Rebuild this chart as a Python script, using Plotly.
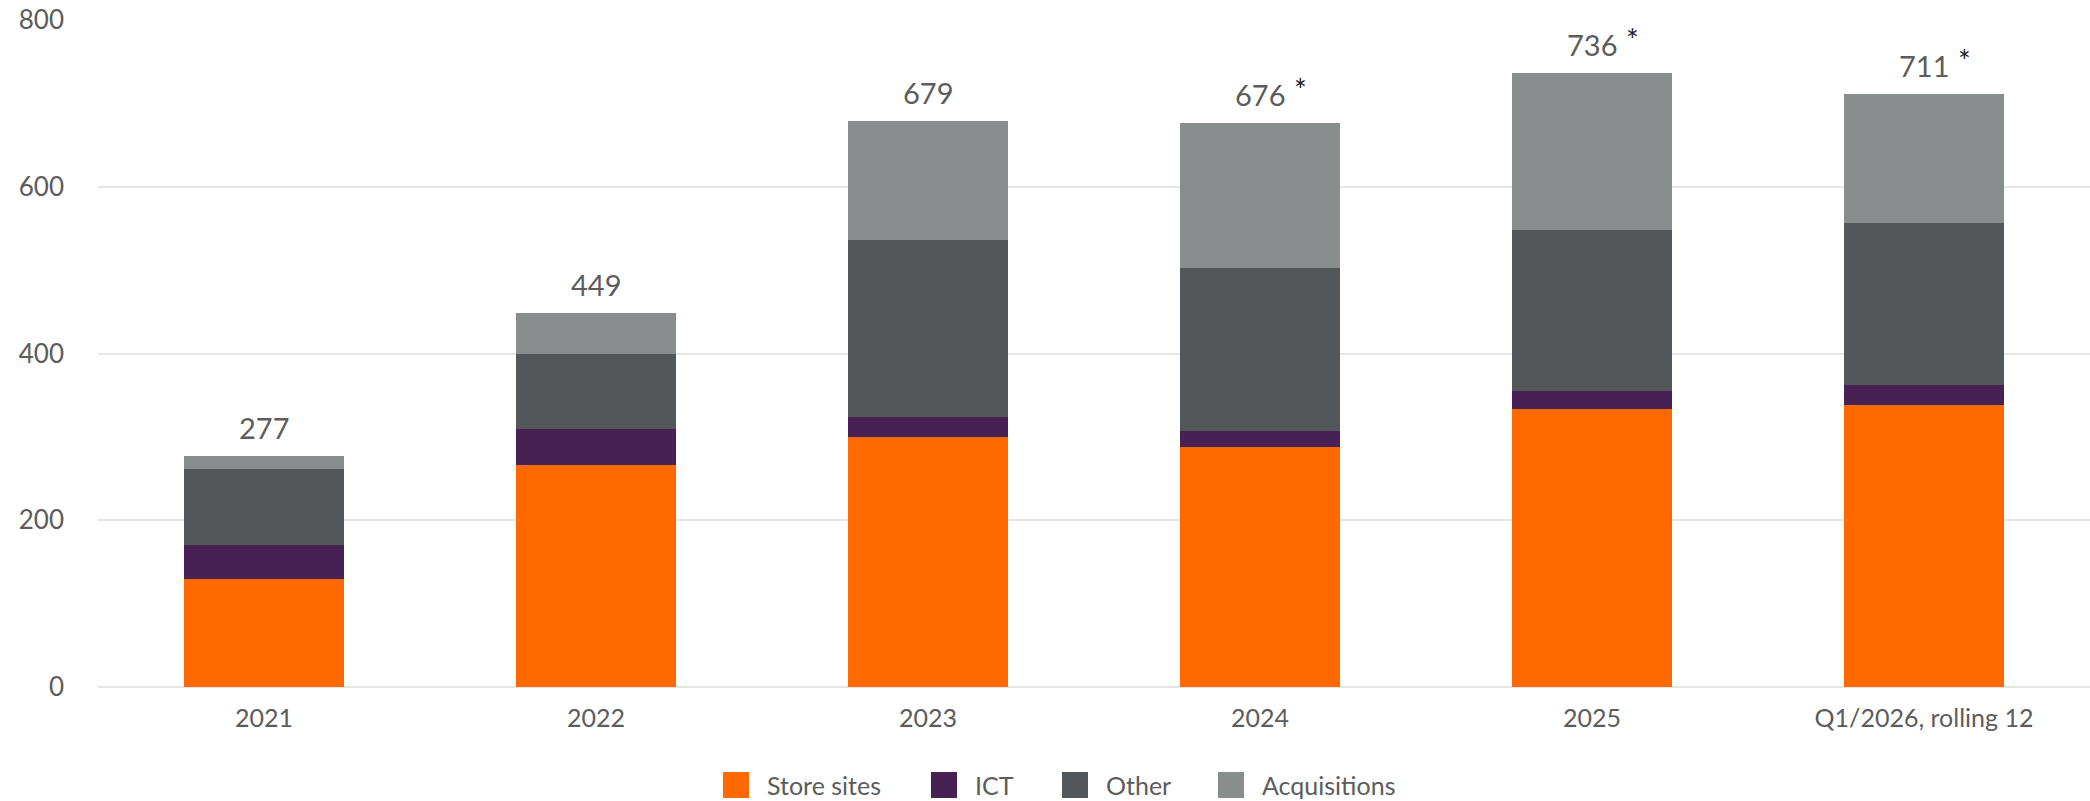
import plotly.graph_objects as go

# Investments by category (EUR million)
categories = ["2021", "2022", "2023", "2024", "2025", "Q1/2026, rolling 12"]
store_sites = [129, 266, 300, 288, 333, 338]
ict = [41, 43, 24, 19, 22, 24]
other = [92, 90, 212, 195, 193, 195]
acquisitions = [15, 50, 143, 174, 188, 154]
totals = [277, 449, 679, 676, 736, 711]
footnoted = [False, False, False, True, True, True]

series_names = ["Store sites", "ICT", "Other", "Acquisitions"]
series_values = [store_sites, ict, other, acquisitions]
series_colors = ["#FF6900", "#472154", "#53575A", "#8A8D8D"]

FONT = "Lato, 'Open Sans', sans-serif"
TEXT_GREY = "#5c5c5c"
W, H = 2090, 801
M_L, M_R, M_T, M_B = 98, 0, 20, 114

fig = go.Figure()
for name, vals, col in zip(series_names, series_values, series_colors):
    fig.add_trace(go.Bar(
        x=categories, y=vals, name=name,
        marker=dict(color=col, line=dict(width=0)),
        showlegend=False,
        hovertemplate="%{x}<br>" + name + ": %{y}<extra></extra>",
    ))

# Total above each stack, with a footnote marker where applicable.
# On a category axis annotations are placed by category index.
for idx, (tot, star) in enumerate(zip(totals, footnoted)):
    fig.add_annotation(
        x=idx, y=tot, xref="x", yref="y", text=str(tot),
        showarrow=False, yanchor="bottom", yshift=9,
        font=dict(family=FONT, size=29, color=TEXT_GREY),
    )
    if star:
        fig.add_annotation(
            x=idx, y=tot, xref="x", yref="y", text="*",
            showarrow=False, yanchor="bottom", xanchor="center",
            xshift=40, yshift=14,
            font=dict(family=FONT, size=30, color="#222222"),
        )

# Legend drawn below the plot: swatch + label for each series
plot_w = W - M_L - M_R
plot_h = H - M_T - M_B


def px_x(px):
    return (px - M_L) / plot_w


def px_y(py):
    return (H - M_B - py) / plot_h


legend_left = [723, 931, 1062, 1218]
sw = 26
legend_cy = 785
for name, col, lx in zip(series_names, series_colors, legend_left):
    fig.add_shape(
        type="rect", xref="paper", yref="paper",
        x0=px_x(lx), x1=px_x(lx + sw),
        y0=px_y(legend_cy + sw / 2), y1=px_y(legend_cy - sw / 2),
        fillcolor=col, line=dict(width=0),
    )
    fig.add_annotation(
        x=px_x(lx + 42), y=px_y(legend_cy), xref="paper", yref="paper",
        text=name, showarrow=False, xanchor="left", yanchor="middle",
        font=dict(family=FONT, size=25, color=TEXT_GREY),
    )

fig.update_layout(
    width=W, height=H,
    margin=dict(l=M_L, r=M_R, t=M_T, b=M_B, pad=0),
    barmode="stack",
    bargap=0.518,
    plot_bgcolor="white",
    paper_bgcolor="white",
    font=dict(family=FONT, color=TEXT_GREY),
    showlegend=False,
)
fig.update_xaxes(
    type="category",
    showgrid=False, showline=False, zeroline=False,
    ticks="", tickfont=dict(family=FONT, size=25, color=TEXT_GREY),
    ticklabelstandoff=14,
)
fig.update_yaxes(
    range=[0, 800], tickvals=[0, 200, 400, 600, 800],
    showgrid=True, gridcolor="#e6e6e6", gridwidth=2,
    zeroline=True, zerolinecolor="#e6e6e6", zerolinewidth=2,
    showline=False, ticks="",
    tickfont=dict(family=FONT, size=26, color=TEXT_GREY),
    ticklabelstandoff=33,
)

fig.write_html("out.html")
